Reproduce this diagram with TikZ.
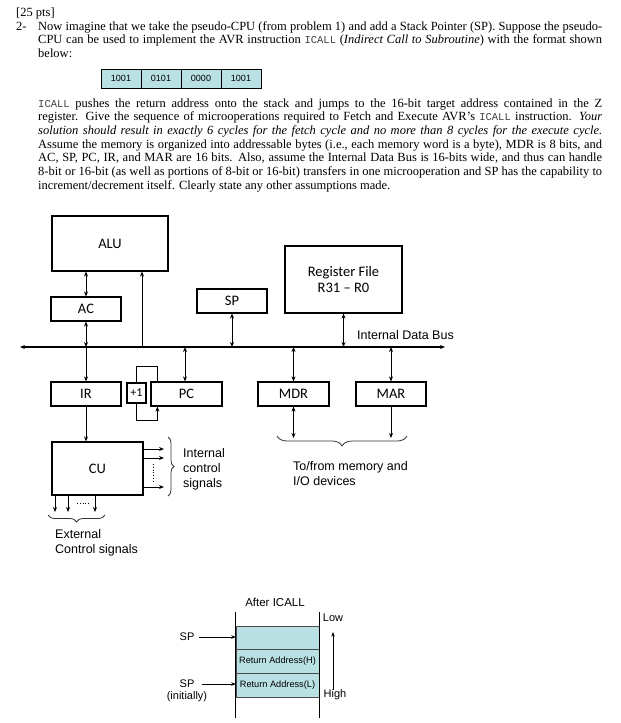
\documentclass[tikz,border=0pt]{standalone}
\usepackage{fontspec}
\setmainfont{Liberation Serif}
\setsansfont{Liberation Sans}
\setmonofont{Liberation Mono}
\newfontfamily\calibri{Carlito}
\usetikzlibrary{arrows.meta, positioning, calc, shadows, decorations.pathreplacing}
\definecolor{stackfill}{HTML}{B9E1E3}
\newcommand{\icall}{{\color{black!75}\ttfamily\fontsize{10.5}{10}\selectfont ICALL}}
\newcommand{\fitlines}{\spaceskip=0.25em plus 0.6em minus 0.14em\tolerance=10000\hyphenpenalty=10000\relax}
\tikzset{
    box/.style={draw, line width=1.2pt, fill=white, inner sep=0pt, align=center, font=\calibri\fontsize{14.5}{16}\selectfont, drop shadow={shadow xshift=1.2pt, shadow yshift=-1.2pt, fill=black!35}},
    reg/.style={box, minimum width=70pt, minimum height=24pt},
    arr/.style={-{Stealth[length=5pt,width=4pt]}, line width=1pt},
    darr/.style={{Stealth[length=5pt,width=4pt]}-{Stealth[length=5pt,width=4pt]}, line width=1pt},
    sarr/.style={-{Stealth[length=4.5pt,width=3.5pt]}, line width=0.7pt},
    lbl/.style={font=\sffamily\fontsize{12.5}{14.5}\selectfont, align=left, inner sep=0pt},
    stk/.style={font=\sffamily\fontsize{11}{13}\selectfont, inner sep=0pt},
    brc/.style={decorate, decoration={brace, amplitude=#1}, line width=0.8pt, black!80},
    cell/.style={draw=black!70, fill=stackfill, minimum width=83pt, minimum height=23.5pt, inner sep=0pt, font=\sffamily\fontsize{9.2}{10}\selectfont},
    bit/.style={draw, line width=1pt, fill=stackfill, minimum width=40pt, minimum height=19pt, inner sep=0pt, font=\sffamily\fontsize{9}{10}\selectfont},
    txt/.style={anchor=base west, inner sep=0pt, text width=564pt, align=justify}
}

\begin{document}
\begin{tikzpicture}[x=1pt, y=1pt]
    \useasboundingbox (0,0) rectangle (621,-723);

    \node[anchor=base west, inner sep=0pt, font=\fontsize{12.5}{14}\selectfont] (pts) at (16,-16) {[25 pts]};
    \node[anchor=base west, inner sep=0pt, font=\fontsize{12.5}{14}\selectfont] (num) at (16,-30) {2-};
    \node[txt, font=\fontsize{12.5}{13.7}\selectfont] (para1) at (38,-30) {\fitlines Now imagine that we take the pseudo-CPU (from problem 1) and add a Stack Pointer (SP). Suppose the pseudo-\linebreak CPU can be used to implement the AVR instruction \icall\ (\textit{Indirect Call to Subroutine}) with the format shown\linebreak below:};

    \foreach [count=\i] \b in {1001,0101,0000,1001}
        \node[bit] (b\i) at (81+40*\i,-78.5) {\b};

    \node[txt, font=\fontsize{12.5}{13.67}\selectfont] (para2) at (38,-107) {\fitlines \icall\ pushes the return address onto the stack and jumps to the 16-bit target address contained in the Z\linebreak register. Give the sequence of microoperations required to Fetch and Execute AVR's \icall\ instruction. \textit{Your\linebreak solution should result in exactly 6 cycles for the fetch cycle and no more than 8 cycles for the execute cycle.}\linebreak Assume the memory is organized into addressable bytes (i.e., each memory word is a byte), MDR is 8 bits, and\linebreak AC, SP, PC, IR, and MAR are 16 bits. Also, assume the Internal Data Bus is 16-bits wide, and thus can handle\linebreak 8-bit or 16-bit (as well as portions of 8-bit or 16-bit) transfers in one microoperation and SP has the capability to\linebreak increment/decrement itself. Clearly state any other assumptions made.};

    \node[box, minimum width=116pt, minimum height=55pt] (alu) at (110,-243.5) {ALU};
    \node[reg] (ac) at (86,-309) {AC};
    \node[reg] (sp) at (232,-301) {SP};
    \node[box, minimum width=117pt, minimum height=67pt] (regfile) at (343.5,-279.5) {Register File\\R31 – R0};
    \node[reg] (ir) at (86,-394) {IR};
    \node[box, minimum width=19pt, minimum height=20pt, font=\calibri\fontsize{12}{14}\selectfont] (inc) at (136.5,-393) {+1};
    \node[reg, minimum width=71pt] (pc) at (186.5,-394) {PC};
    \node[reg, minimum width=71pt] (mdr) at (293.5,-394) {MDR};
    \node[reg] (mar) at (391,-394) {MAR};
    \node[box, minimum width=91pt, minimum height=53pt] (cu) at (97.5,-468.5) {CU};

    \coordinate (busL) at (20,-347);
    \coordinate (busR) at (445,-347);
    \draw[darr, line width=1.4pt] (busL) -- (busR);
    \node[lbl, anchor=base west] (buslbl) at (357,-339) {Internal Data Bus};

    \draw[darr] (alu.south -| ac) -- (ac.north);
    \draw[darr] (ac.south) -- (ac.south |- busL);
    \draw[arr] ([xshift=32pt]alu.south |- busL) -- ([xshift=32pt]alu.south);
    \draw[darr] (sp.south) -- (sp.south |- busL);
    \draw[darr] (regfile.south) -- (regfile.south |- busL);
    \draw[arr] (ir.north |- busL) -- (ir.north);
    \draw[darr] ([xshift=-1.5pt]pc.north |- busL) -- ([xshift=-1.5pt]pc.north);
    \draw[darr] (mdr.north |- busL) -- (mdr.north);
    \draw[darr] (mar.north |- busL) -- (mar.north);
    \draw[darr] (mdr.south) -- (mdr.south |- 0,-438);
    \draw[arr] (mar.south) -- (mar.south |- 0,-438);
    \draw[arr] (ir.south) -- (cu.north -| ir.south);

    \draw[line width=1pt] (inc.north) -- ++(0,16) -| ([xshift=7pt]pc.north west);
    \draw[arr] (inc.south) -- ++(0,-17) -| ([xshift=7pt]pc.south west);

    \foreach \y in {449,458,487}
        \draw[arr] (cu.east |- 0,-\y) -- (164,-\y);
    \draw[dotted, line width=0.8pt] (153,-464) -- (153,-481);
    \draw[brc=6pt] (168,-437) -- (168,-496);
    \node[lbl, anchor=base west, font=\sffamily\fontsize{12.5}{15}\selectfont] (intsig) at (183,-487) {Internal\\control\\signals};

    \foreach \x in {55,68,95}
        \draw[arr] (cu.south -| \x,0) -- (\x,-512);
    \draw[dotted, line width=0.8pt] (77,-503) -- (90,-503);
    \draw[brc=7pt] (105,-515) -- (48,-515);
    \node[lbl, anchor=base west] (extsig) at (55,-553) {External\\Control signals};

    \draw[brc=10pt] (407,-436) -- (277,-436);
    \node[lbl, anchor=base west] (memio) at (293,-485) {To/from memory and\\I/O devices};

    \node[stk, font=\sffamily\fontsize{11.5}{13}\selectfont] (after) at (275,-602) {After ICALL};
    \node[cell] (top) at (277.5,-637.5) {};
    \node[cell, below=0pt of top] (rah) {Return Address(H)};
    \node[cell, below=0pt of rah] (ral) {Return Address(L)};
    \draw[line width=0.8pt] ([yshift=14pt]top.north west) -- ([yshift=-21pt]ral.south west);
    \draw[line width=0.8pt] ([yshift=14pt]top.north east) -- ([yshift=-21pt]ral.south east);

    \node[stk] (sp1) at (187,-637) {SP};
    \draw[sarr, shorten <=4pt] (sp1.east) -- (sp1.east -| top.west);
    \node[stk] (sp0) at (187,-684) {SP};
    \node[stk] (init) at (187,-697) {(initially)};
    \draw[sarr, shorten <=7pt] (sp0.east) -- (sp0.east -| ral.west);

    \node[stk] (low) at (333,-618) {Low};
    \node[stk] (high) at (335,-695) {High};
    \draw[sarr, shorten >=10pt] (high.north -| low.south) -- (low.south);
\end{tikzpicture}
\end{document}
